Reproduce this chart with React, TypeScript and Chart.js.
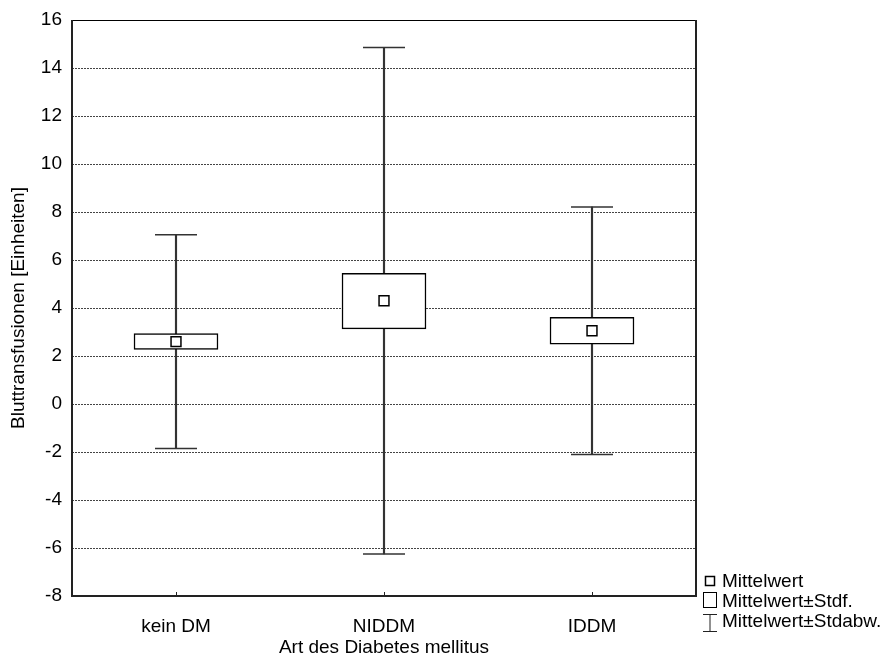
import React, { useEffect, useRef } from 'react';
import { Chart, registerables } from 'chart.js';

Chart.register(...registerables);

const categories = ['kein DM', 'NIDDM', 'IDDM'];
const means = [2.6, 4.3, 3.05];
const seLow = [2.27, 3.13, 2.49];
const seHigh = [2.93, 5.44, 3.61];
const sdLow = [-1.85, -6.25, -2.1];
const sdHigh = [7.05, 14.85, 8.21];
const yMin = -8;
const yMax = 16;
const yStep = 2;
const legendLabels = ['Mittelwert', 'Mittelwert±Stdf.', 'Mittelwert±Stdabw.'];
const xTitle = 'Art des Diabetes mellitus';
const yTitle = 'Bluttransfusionen [Einheiten]';

const FONT = "Arial, 'Liberation Sans', Helvetica, sans-serif";
const FS = 19;
const W = 882;
const H = 659;

const framePlugin = {
  id: 'framePlugin',
  beforeDatasetsDraw(chart: any) {
    const { ctx, chartArea: a, scales } = chart;
    const L = Math.round(a.left);
    const R = Math.round(a.right);
    const T = Math.round(a.top);
    const B = Math.round(a.bottom);
    ctx.save();
    // dotted grid lines
    ctx.strokeStyle = '#444';
    ctx.lineWidth = 1;
    ctx.setLineDash([2, 1]);
    ctx.beginPath();
    for (const t of scales.y.ticks) {
      if (t.value === yMin || t.value === yMax) continue;
      const py = Math.round(scales.y.getPixelForValue(t.value)) + 0.5;
      ctx.moveTo(L, py);
      ctx.lineTo(R, py);
    }
    ctx.stroke();
    ctx.setLineDash([]);
    // top border
    ctx.strokeStyle = '#000';
    ctx.lineWidth = 1;
    ctx.beginPath();
    ctx.moveTo(L, T + 0.5);
    ctx.lineTo(R, T + 0.5);
    ctx.stroke();
    // left, right, bottom borders
    ctx.strokeStyle = '#222';
    ctx.lineWidth = 2;
    ctx.beginPath();
    ctx.moveTo(L, T);
    ctx.lineTo(L, B);
    ctx.lineTo(R, B);
    ctx.lineTo(R, T);
    ctx.stroke();
    // small inner tick marks on x axis
    ctx.lineWidth = 1;
    ctx.beginPath();
    for (let i = 0; i < categories.length; i++) {
      const px = Math.round(scales.x.getPixelForValue(i)) + 0.5;
      ctx.moveTo(px, B);
      ctx.lineTo(px, B - 4);
    }
    ctx.stroke();
    ctx.restore();
  },
};

export default function App() {
  const ref = useRef<HTMLCanvasElement | null>(null);

  useEffect(() => {
    if (!ref.current) return;
    const chart = new Chart(ref.current, {
      type: 'bar',
      data: {
        labels: categories,
        datasets: [
          {
            type: 'line',
            label: legendLabels[0],
            data: means,
            showLine: false,
            pointStyle: 'rect',
            pointRadius: 7,
            pointBackgroundColor: '#fff',
            pointBorderColor: '#000',
            pointBorderWidth: 1.5,
            order: 0,
          } as any,
          {
            type: 'line',
            label: 'sdHighCap',
            data: sdHigh,
            showLine: false,
            pointStyle: 'line',
            pointRadius: 21,
            pointBorderColor: '#333',
            pointBorderWidth: 1.5,
            order: 1,
          } as any,
          {
            type: 'line',
            label: 'sdLowCap',
            data: sdLow,
            showLine: false,
            pointStyle: 'line',
            pointRadius: 21,
            pointBorderColor: '#333',
            pointBorderWidth: 1.5,
            order: 1,
          } as any,
          {
            type: 'bar',
            label: legendLabels[1],
            data: categories.map((_, i) => [seLow[i], seHigh[i]]),
            backgroundColor: '#fff',
            borderColor: '#000',
            borderWidth: 1.5,
            borderSkipped: false,
            barThickness: 84,
            grouped: false,
            order: 2,
          } as any,
          {
            type: 'bar',
            label: legendLabels[2],
            data: categories.map((_, i) => [sdLow[i], sdHigh[i]]),
            backgroundColor: '#333',
            borderWidth: 0,
            barThickness: 1.5,
            grouped: false,
            order: 3,
          } as any,
        ],
      },
      options: {
        responsive: false,
        animation: false,
        events: [],
        layout: { autoPadding: false, padding: { left: 0, right: W - 696, top: 20, bottom: 0 } },
        plugins: {
          legend: { display: false },
          tooltip: { enabled: false },
        },
        scales: {
          x: {
            type: 'category',
            grid: { display: false },
            border: { display: false },
            ticks: {
              color: '#000',
              padding: 11,
              font: { family: FONT, size: FS },
              maxRotation: 0,
            },
            title: {
              display: true,
              text: xTitle,
              color: '#000',
              font: { family: FONT, size: FS },
              padding: { top: 0, bottom: 0 },
            },
            afterFit(scale: any) {
              scale.height = H - 596;
              scale.paddingLeft = 0;
              scale.paddingRight = 0;
            },
          },
          y: {
            min: yMin,
            max: yMax,
            grid: { display: false, drawTicks: false },
            border: { display: false },
            ticks: {
              stepSize: yStep,
              color: '#000',
              padding: 10,
              font: { family: FONT, size: FS },
            },
            title: {
              display: true,
              text: yTitle,
              color: '#000',
              font: { family: FONT, size: FS },
              padding: { top: 7, bottom: 0 },
            },
            afterFit(scale: any) {
              scale.width = 72;
              scale.paddingTop = 0;
              scale.paddingBottom = 0;
            },
          },
        },
      } as any,
      plugins: [framePlugin],
    });
    return () => chart.destroy();
  }, []);

  const textStyle: React.CSSProperties = {
    position: 'absolute',
    left: 722,
    fontFamily: FONT,
    fontSize: FS,
    lineHeight: '20px',
    color: '#000',
    whiteSpace: 'nowrap',
  };

  return (
    <div style={{ position: 'absolute', left: 0, top: 0, width: W, height: H, background: '#fff' }}>
      <canvas ref={ref} width={W} height={H} style={{ display: 'block' }} />
      <svg
        width={24}
        height={70}
        style={{ position: 'absolute', left: 698, top: 570 }}
        viewBox="698 570 24 70"
      >
        <rect x={705.5} y={576.5} width={9} height={9} fill="#fff" stroke="#000" strokeWidth={1.5} />
        <rect x={703.5} y={592.5} width={13} height={15} fill="#fff" stroke="#000" strokeWidth={1} />
        <line x1={703} y1={614.5} x2={717} y2={614.5} stroke="#222" strokeWidth={1} />
        <line x1={710} y1={614.5} x2={710} y2={631.5} stroke="#222" strokeWidth={1} />
        <line x1={703} y1={631.5} x2={717} y2={631.5} stroke="#222" strokeWidth={1} />
      </svg>
      <div style={{ ...textStyle, top: 571 }}>{legendLabels[0]}</div>
      <div style={{ ...textStyle, top: 591 }}>{legendLabels[1]}</div>
      <div style={{ ...textStyle, top: 611 }}>{legendLabels[2]}</div>
    </div>
  );
}
